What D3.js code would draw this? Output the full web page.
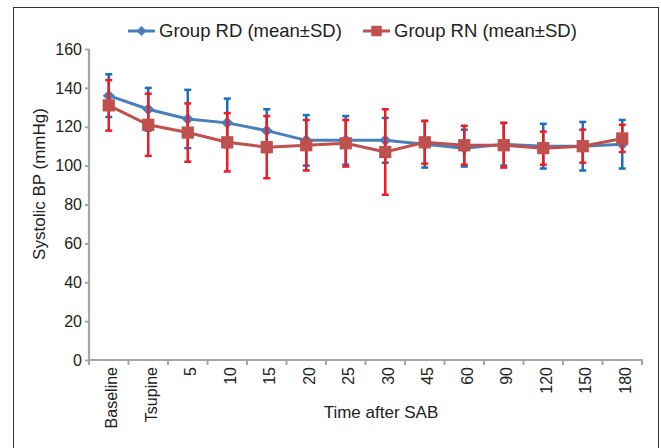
<!DOCTYPE html>
<html><head><meta charset="utf-8">
<script src="https://cdn.jsdelivr.net/npm/d3@7"></script>
<style>body{margin:0;background:#fff}svg{display:block}text{font-family:"Liberation Sans",Arial,sans-serif;fill:#222}</style>
</head><body><svg id="c" width="661" height="448"></svg>
<script>
const categories = ["Baseline","Tsupine","5","10","15","20","25","30","45","60","90","120","150","180"];
const rdMean = [136,129,124,122,118,113,113,113,111,109,111,110,110,111];
const rdSD   = [11,11,15,12.5,11,13,12.5,11.5,12,9.5,11,11.5,12.5,12.5];
const rnMean = [131,121,117,112,109.5,110.5,111.5,107,112,110.5,110.5,109,110,114];
const rnSD   = [13,16,15,15,16,13,12,22,11,10,11.5,8.5,8.5,7];
const yTicks = [0,20,40,60,80,100,120,140,160];
const seriesNames = ["Group RD (mean±SD)","Group RN (mean±SD)"];

const svg = d3.select("#c");
svg.append("rect").attr("x",13.5).attr("y",7.5).attr("width",645).attr("height",445)
  .attr("fill","none").attr("stroke","#333").attr("stroke-width",1);

const x = d3.scaleBand().domain(categories).range([89,642]);
const y = d3.scaleLinear().domain([0,160]).range([360,49]);

// y axis
const ya = svg.append("g").attr("transform","translate(89,0)")
  .call(d3.axisLeft(y).tickValues(yTicks).tickSize(4).tickPadding(3));
ya.select(".domain").attr("stroke","#a6a6a6").attr("stroke-width",2.2).attr("d","M0,49V361");
ya.selectAll(".tick line").attr("stroke","#a6a6a6").attr("stroke-width",2);
ya.selectAll(".tick text").style("font-size","16px").attr("fill","#222");

// x axis
const xa = svg.append("g").attr("transform","translate(0,360)")
  .call(d3.axisBottom(x).tickSize(0).tickPadding(0));
xa.select(".domain").attr("stroke","#a6a6a6").attr("stroke-width",2.2).attr("d","M88,0H643");
xa.selectAll(".tick line").remove();
xa.selectAll(".tick text").attr("transform","rotate(-90)").attr("text-anchor","end")
  .attr("x",-7).attr("y",0).attr("dy","0.52em").style("font-size","16px").attr("fill","#222");
// boundary ticks
const bounds = categories.map(c=>x(c)).concat([x.range()[1]]);
svg.append("g").selectAll("line").data(bounds).join("line")
  .attr("x1",d=>d).attr("x2",d=>d).attr("y1",360).attr("y2",365)
  .attr("stroke","#a6a6a6").attr("stroke-width",2);

// titles
svg.append("text").attr("x",381).attr("y",418).attr("text-anchor","middle")
  .style("font-size","17px").text("Time after SAB");
svg.append("text").attr("transform","translate(45,184) rotate(-90)").attr("text-anchor","middle")
  .style("font-size","17px").text("Systolic BP (mmHg)");

const cx = c => x(c) + x.bandwidth()/2;
function drawSeries(means, sds, lineCol, errCol, markerType, mSize){
  const data = categories.map((c,i)=>({c, m:means[i], s:sds[i]}));
  const g = svg.append("g");
  g.append("path").datum(data).attr("fill","none").attr("stroke",lineCol).attr("stroke-width",3)
    .attr("d", d3.line().x(d=>cx(d.c)).y(d=>y(d.m)));
  const eb = g.append("g").attr("stroke",errCol).attr("stroke-width",2.5);
  eb.selectAll(".v").data(data).join("line").attr("x1",d=>cx(d.c)).attr("x2",d=>cx(d.c))
    .attr("y1",d=>y(d.m+d.s)).attr("y2",d=>y(d.m-d.s));
  eb.selectAll(".t").data(data).join("line").attr("x1",d=>cx(d.c)-3.5).attr("x2",d=>cx(d.c)+3.5)
    .attr("y1",d=>y(d.m+d.s)).attr("y2",d=>y(d.m+d.s));
  eb.selectAll(".b").data(data).join("line").attr("x1",d=>cx(d.c)-3.5).attr("x2",d=>cx(d.c)+3.5)
    .attr("y1",d=>y(d.m-d.s)).attr("y2",d=>y(d.m-d.s));
  g.selectAll(".mk").data(data).join("path")
    .attr("transform",d=>`translate(${cx(d.c)},${y(d.m)})`+(markerType==="diamond"?" rotate(45)":""))
    .attr("d", d3.symbol().type(d3.symbolSquare).size(mSize))
    .attr("fill",lineCol);
}
drawSeries(rdMean, rdSD, "#4a7ebb", "#1a6fc0", "diamond", 72);
drawSeries(rnMean, rnSD, "#c0504d", "#ee1c25", "square", 150);

// legend
const leg = svg.append("g");
function legItem(x0, col, type, size, label){
  leg.append("line").attr("x1",x0).attr("x2",x0+27).attr("y1",31).attr("y2",31).attr("stroke",col).attr("stroke-width",3);
  leg.append("path").attr("transform",`translate(${x0+13.5},31)`+(type==="diamond"?" rotate(45)":""))
    .attr("d",d3.symbol().type(d3.symbolSquare).size(size)).attr("fill",col);
  leg.append("text").attr("x",x0+31).attr("y",31).attr("dy","0.35em").style("font-size","18.5px").text(label);
}
legItem(128, "#4a7ebb", "diamond", 50, seriesNames[0]);
legItem(363, "#c0504d", "square", 110, seriesNames[1]);
</script></body></html>
